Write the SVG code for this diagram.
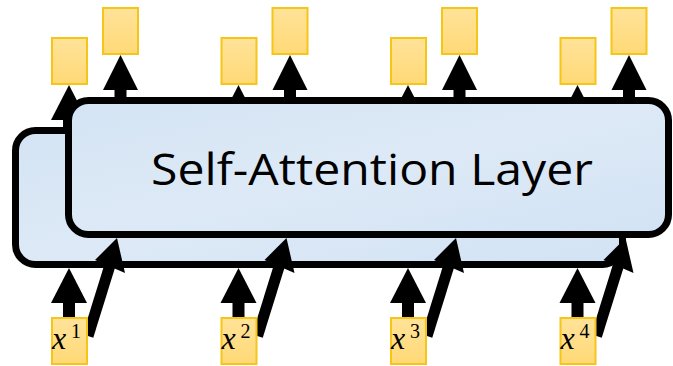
<svg xmlns="http://www.w3.org/2000/svg" width="673" height="366" viewBox="0 0 673 366">
<defs>
<linearGradient id="yel" x1="0" y1="0" x2="0" y2="1"><stop offset="0" stop-color="#ffe39a"/><stop offset="1" stop-color="#ffd976"/></linearGradient>
<linearGradient id="blu" x1="0" y1="0" x2="1" y2="1"><stop offset="0" stop-color="#d4e4f4"/><stop offset="0.5" stop-color="#dde9f6"/><stop offset="1" stop-color="#d2e3f5"/></linearGradient>
<style>
.box{fill:url(#blu);stroke:#000;stroke-width:7}
.tok{fill:url(#yel);stroke:#f5c518;stroke-width:2}
.arr{fill:#000}
.shaft{stroke:#000;stroke-width:11;fill:none}
.lbl{font-family:"Liberation Serif",serif;font-style:italic;font-size:32px;fill:#000}
.sup{font-family:"Liberation Serif",serif;font-size:20px;fill:#000}
.title{font-family:"Open Sans","Liberation Sans",sans-serif;font-size:44px;fill:#000}
</style>
</defs>
<g id="back-layer"><rect class="box" x="15.5" y="130.5" width="607" height="134" rx="20"/></g>
<g id="connectors-hidden">
<g class="arr">
<polygon points="51,120 87,120 69,85"/><rect x="63" y="118" width="12" height="10"/>
<polygon points="220.5,120 256.5,120 238.5,85"/><rect x="232.5" y="118" width="12" height="10"/>
<polygon points="390,120 426,120 408,85"/><rect x="402" y="118" width="12" height="10"/>
<polygon points="559.5,120 595.5,120 577.5,85"/><rect x="571.5" y="118" width="12" height="10"/>
</g>
</g>
<g id="self-attention-layer"><rect class="box" x="68.5" y="100.5" width="600" height="134" rx="20"/>
<text class="title" x="372" y="185" text-anchor="middle" textLength="442" lengthAdjust="spacingAndGlyphs">Self-Attention Layer</text></g>
<g id="connectors">
<g class="arr">
<polygon points="103,90 138,90 120.5,55"/><rect x="114.5" y="88" width="12" height="10"/>
<polygon points="272.5,90 307.5,90 290,55"/><rect x="284" y="88" width="12" height="10"/>
<polygon points="442,90 477,90 459.5,55"/><rect x="453.5" y="88" width="12" height="10"/>
<polygon points="611.5,90 646.5,90 629,55"/><rect x="623" y="88" width="12" height="10"/>
<polygon points="51,303 87,303 69,268"/><rect x="63" y="301" width="12" height="17"/>
<polygon points="220.5,303 256.5,303 238.5,268"/><rect x="232.5" y="301" width="12" height="17"/>
<polygon points="390,303 426,303 408,268"/><rect x="402" y="301" width="12" height="17"/>
<polygon points="559.5,303 595.5,303 577.5,268"/><rect x="571.5" y="301" width="12" height="17"/>
<polygon points="95,260 125,273 117,238"/>
<polygon points="264.5,260 294.5,273 286.5,238"/>
<polygon points="434,260 464,273 456,238"/>
<polygon points="603.5,260 633.5,273 625.5,238"/>
</g>
<line class="shaft" x1="88" y1="336" x2="111" y2="262"/>
<line class="shaft" x1="257.5" y1="336" x2="280.5" y2="262"/>
<line class="shaft" x1="427" y1="336" x2="450" y2="262"/>
<line class="shaft" x1="596.5" y1="336" x2="619.5" y2="262"/>
</g>
<g id="y1a"><rect class="tok" x="52" y="38" width="35" height="46"/></g>
<g id="y1b"><rect class="tok" x="103" y="8" width="35" height="46"/></g>
<g id="y2a"><rect class="tok" x="221.5" y="38" width="35" height="46"/></g>
<g id="y2b"><rect class="tok" x="272.5" y="8" width="35" height="46"/></g>
<g id="y3a"><rect class="tok" x="391" y="38" width="35" height="46"/></g>
<g id="y3b"><rect class="tok" x="442" y="8" width="35" height="46"/></g>
<g id="y4a"><rect class="tok" x="560.5" y="38" width="35" height="46"/></g>
<g id="y4b"><rect class="tok" x="611.5" y="8" width="35" height="46"/></g>
<g id="x1"><rect class="tok" x="52" y="318" width="35" height="46"/><text class="lbl" x="52" y="349">x</text><text class="sup" x="71" y="338">1</text></g>
<g id="x2"><rect class="tok" x="221.5" y="318" width="35" height="46"/><text class="lbl" x="221.5" y="349">x</text><text class="sup" x="240.5" y="338">2</text></g>
<g id="x3"><rect class="tok" x="391" y="318" width="35" height="46"/><text class="lbl" x="391" y="349">x</text><text class="sup" x="410" y="338">3</text></g>
<g id="x4"><rect class="tok" x="560.5" y="318" width="35" height="46"/><text class="lbl" x="560.5" y="349">x</text><text class="sup" x="579.5" y="338">4</text></g>
</svg>
